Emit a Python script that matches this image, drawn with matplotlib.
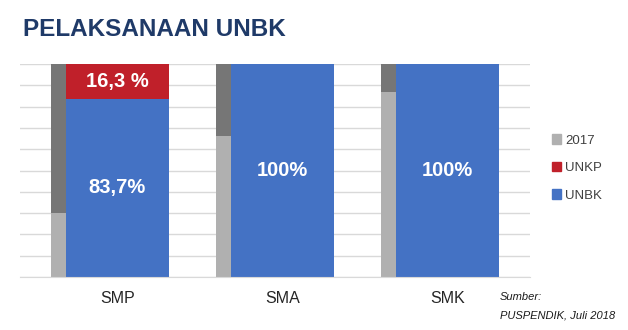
import matplotlib
matplotlib.use("Agg")
import matplotlib.pyplot as plt
from matplotlib.patches import Patch
import numpy as np

categories = ["SMP", "SMA", "SMK"]
unbk = [83.7, 100, 100]
unkp = [16.3, 0, 0]
y2017_low = [30, 66, 87]
y2017_high = [70, 34, 13]
value_labels = ["83,7%", "100%", "100%"]
unkp_labels = ["16,3 %", "", ""]

plt.rcParams['font.family'] = ['Liberation Sans', 'DejaVu Sans']

fig = plt.figure(figsize=(6.28, 3.30), dpi=100)
ax = fig.add_axes([20/628, 1-277/330, 510/628, 213/330])

x = np.arange(len(categories))
w_wide = 0.624
w_narrow = 0.088
off = -(w_wide/2 + w_narrow/2)

c_blue = "#4472C4"
c_red = "#C0202A"
c_lgray = "#B0B0B0"
c_dgray = "#767676"

ax.bar(x + off, y2017_low, width=w_narrow, color=c_lgray, zorder=2)
ax.bar(x + off, y2017_high, bottom=y2017_low, width=w_narrow, color=c_dgray, zorder=2)
ax.bar(x, unbk, width=w_wide, color=c_blue, zorder=2)
ax.bar(x, unkp, bottom=unbk, width=w_wide, color=c_red, zorder=2)

for i in range(len(categories)):
    ax.text(x[i], unbk[i]/2, value_labels[i], ha="center", va="center",
            color="white", fontsize=14.5, fontweight="bold", zorder=3)
    if unkp_labels[i]:
        ax.text(x[i], unbk[i] + unkp[i]/2, unkp_labels[i], ha="center", va="center",
                color="white", fontsize=14.5, fontweight="bold", zorder=3)

ax.set_xlim(-0.59, 2.5)
ax.set_ylim(0, 100)
ax.set_yticks(np.arange(0, 101, 10))
ax.set_yticklabels([])
ax.tick_params(axis="y", length=0)
ax.grid(axis="y", color="#D9D9D9", linewidth=1, zorder=0)
ax.set_axisbelow(True)
ax.set_xticks(x)
ax.set_xticklabels(categories, fontsize=11.5, color="#262626")
ax.tick_params(axis="x", length=0, pad=10)
for s in ["top", "right", "left"]:
    ax.spines[s].set_visible(False)
ax.spines["bottom"].set_color("#D9D9D9")

handles = [Patch(color=c_lgray, label="2017"),
           Patch(color=c_red, label="UNKP"),
           Patch(color=c_blue, label="UNBK")]
fig.legend(handles=handles, loc="center left", bbox_to_anchor=(540/628, 1-168/330),
           frameon=False, fontsize=9.5, handlelength=0.7, handleheight=0.7,
           handletextpad=0.3, labelspacing=1.15, labelcolor="#404040")

fig.text(23/628, 1-30/330, "PELAKSANAAN UNBK", fontsize=17.5, fontweight="bold",
         color="#1F3A68", va="center", ha="left")

fig.text(500/628, 1-297/330, "Sumber:", fontsize=8, style="italic", color="#1a1a1a",
         va="center", ha="left")
fig.text(500/628, 1-315/330, "PUSPENDIK, Juli 2018", fontsize=8, style="italic",
         color="#1a1a1a", va="center", ha="left")

fig.savefig("out.png", dpi=100)
